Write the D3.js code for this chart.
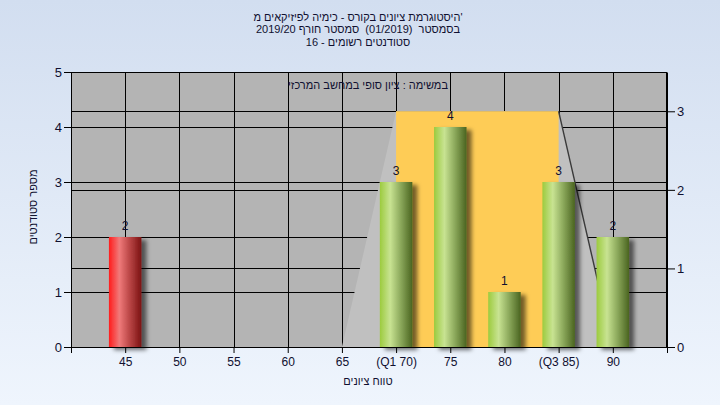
<!DOCTYPE html>
<html><head><meta charset="utf-8">
<script src="https://cdn.jsdelivr.net/npm/d3@7/dist/d3.min.js"></script>
<style>
html,body{margin:0;padding:0;}
svg{display:block;font-family:"Liberation Sans","DejaVu Sans",Arial,sans-serif;}
</style></head>
<body>
<svg id="c" width="720" height="405"></svg>
<script>
// ---- data ----
const categories = [45, 50, 55, 60, 65, 70, 75, 80, 85, 90];
const counts     = [2, 0, 0, 0, 0, 3, 4, 1, 3, 2];
const barKinds   = ["fail", "pass", "pass", "pass", "pass", "pass", "pass", "pass", "pass", "pass"];
const xTickValues = [40, 45, 50, 55, 60, 65, 70, 75, 80, 85, 90, 95];
const xTickLabels = ["", "45", "50", "55", "60", "65", "(Q1 70)", "75", "80", "(Q3 85)", "90", ""];
const yTicks  = [0, 1, 2, 3, 4, 5];
const y2Ticks = [0, 1, 2, 3];
const spreadX = [65, 70, 85, 90];
const spreadY = [0, 3, 3, 0];
const boxX = [70, 85];
const boxY = [3, 3];
const titleLines = [
  "היסטוגרמת ציונים בקורס - כימיה לפיזיקאים מ'",
  "בסמסטר  (01/2019)  סמסטר חורף 2019/20",
  "סטודנטים רשומים - 16"
];
const noteText = "במשימה : ציון סופי במחשב המרכזי";
const xTitle = "טווח ציונים";
const yTitle = "מספר סטודנטים";

const svg = d3.select("#c");
const W = 720, H = 405;
const L = 71, R = 667, T = 72, B = 347;
const x  = d3.scaleLinear().domain([40, 95]).range([L, R]);
const y  = d3.scaleLinear().domain([0, 5]).range([B, T]);
const y2 = d3.scaleLinear().domain([0, 3.5]).range([B, T]);
const textColor = "#101030";

const defs = svg.append("defs");
const bgG = defs.append("linearGradient").attr("id","bg").attr("x1",0).attr("y1",0).attr("x2",0).attr("y2",1);
bgG.append("stop").attr("offset","0%").attr("stop-color","#d2def0");
bgG.append("stop").attr("offset","100%").attr("stop-color","#eff5fd");

function hGrad(id, stops){
  const g = defs.append("linearGradient").attr("id", id).attr("x1",0).attr("y1",0).attr("x2",1).attr("y2",0);
  stops.forEach(s => g.append("stop").attr("offset", s[0]).attr("stop-color", s[1]));
}
hGrad("gpass", [["0%","#9ccb3e"],["32%","#c8e392"],["65%","#8aa75a"],["100%","#4a6420"]]);
hGrad("gfail", [["0%","#ff1c1c"],["32%","#f07a7a"],["65%","#b84444"],["100%","#7a1212"]]);

const sh = defs.append("filter").attr("id","shadow").attr("x","-30%").attr("y","-10%").attr("width","180%").attr("height","130%");
sh.append("feDropShadow").attr("dx",5).attr("dy",3).attr("stdDeviation",2.2).attr("flood-color","#000").attr("flood-opacity",0.55);

// background
svg.append("rect").attr("width",W).attr("height",H).attr("fill","url(#bg)");
// plot area
svg.append("rect").attr("x",L).attr("y",T).attr("width",R-L).attr("height",B-T).attr("fill","#b4b4b4");

// gridlines
const grid = svg.append("g").attr("stroke","#000").attr("stroke-width",1).attr("shape-rendering","crispEdges");
yTicks.filter(v => v > 0 && v < 5).forEach(v => grid.append("line").attr("x1",L).attr("x2",R).attr("y1",Math.round(y(v))+0.5).attr("y2",Math.round(y(v))+0.5));
y2Ticks.filter(v => v > 0).forEach(v => grid.append("line").attr("x1",L).attr("x2",R).attr("y1",Math.round(y2(v))+0.5).attr("y2",Math.round(y2(v))+0.5));
xTickValues.filter(v => v > 40 && v < 95).forEach(v => grid.append("line").attr("y1",T).attr("y2",B).attr("x1",Math.round(x(v))+0.5).attr("x2",Math.round(x(v))+0.5));

// spread area (secondary axis)
const spread = spreadX.map((v,i) => [v, spreadY[i]]);
svg.append("path").datum(spread)
  .attr("d", d3.area().x(d => x(d[0])).y0(y2(0)).y1(d => y2(d[1])))
  .attr("fill","#c0c0c0");
// quartile box (secondary axis)
const box = boxX.map((v,i) => [v, boxY[i]]);
svg.append("path").datum(box)
  .attr("d", d3.area().x(d => x(d[0])).y0(y2(0)).y1(d => y2(d[1])))
  .attr("fill","#fecc56");
// right edge line of spread
svg.append("path").datum(spread.slice(2))
  .attr("d", d3.line().x(d => x(d[0])).y(d => y2(d[1])))
  .attr("stroke","#3a3a3a").attr("stroke-width",1.4).attr("fill","none");

// bars
const bars = categories.map((c,i) => ({c, v: counts[i], k: barKinds[i]})).filter(d => d.v > 0);
const half = x(41.5) - x(40);
svg.append("g").selectAll("rect").data(bars).join("rect")
  .attr("x", d => x(d.c) - half).attr("width", 2*half)
  .attr("y", d => y(d.v)).attr("height", d => y(0) - y(d.v))
  .attr("fill", d => d.k === "fail" ? "url(#gfail)" : "url(#gpass)")
  .attr("filter","url(#shadow)");
svg.append("g").selectAll("text").data(bars).join("text")
  .attr("x", d => x(d.c)).attr("y", d => y(d.v) - 7)
  .attr("text-anchor","middle").attr("font-size",12).attr("fill",textColor)
  .text(d => d.v);

// border
svg.append("rect").attr("x",L+0.5).attr("y",T+0.5).attr("width",R-L-1).attr("height",B-T)
  .attr("fill","none").attr("stroke","#000").attr("shape-rendering","crispEdges");

// axes
function styleAxis(g){
  g.selectAll("path").attr("stroke","#000");
  g.selectAll("line").attr("stroke","#000");
  g.selectAll("text").attr("fill",textColor).attr("font-size",12)
   .attr("font-family",'"Liberation Sans","DejaVu Sans",Arial,sans-serif');
}
svg.append("g").attr("transform",`translate(${L},0)`)
  .call(d3.axisLeft(y).tickValues(yTicks).tickSize(7).tickSizeOuter(0).tickPadding(2).tickFormat(d3.format("d")))
  .call(styleAxis).selectAll("text").attr("font-size",13);
svg.append("g").attr("transform",`translate(${R},0)`)
  .call(d3.axisRight(y2).tickValues(y2Ticks).tickSize(8).tickSizeOuter(0).tickPadding(2).tickFormat(d3.format("d")))
  .call(styleAxis).selectAll("text").attr("font-size",13);
svg.append("g").attr("transform",`translate(0,${B})`)
  .call(d3.axisBottom(x).tickValues(xTickValues).tickSize(6).tickSizeOuter(0).tickPadding(4).tickFormat((d,i) => xTickLabels[i]))
  .call(styleAxis);

// titles
svg.append("g").selectAll("text").data(titleLines).join("text")
  .attr("x", 358).attr("y", (d,i) => 20.5 + i*12.5)
  .attr("text-anchor","middle").style("white-space","pre")
  .attr("font-size",11).attr("fill",textColor)
  .text(d => d);
svg.append("text").attr("x",368).attr("y",89).attr("text-anchor","middle")
  .attr("font-size",11).attr("fill",textColor).text(noteText);
svg.append("text").attr("x",368).attr("y",385).attr("text-anchor","middle")
  .attr("font-size",11).attr("fill",textColor).text(xTitle);
svg.append("text").attr("transform","translate(37,207) rotate(-90)").attr("text-anchor","middle")
  .attr("font-size",11).attr("fill",textColor).text(yTitle);
</script>
</body></html>
